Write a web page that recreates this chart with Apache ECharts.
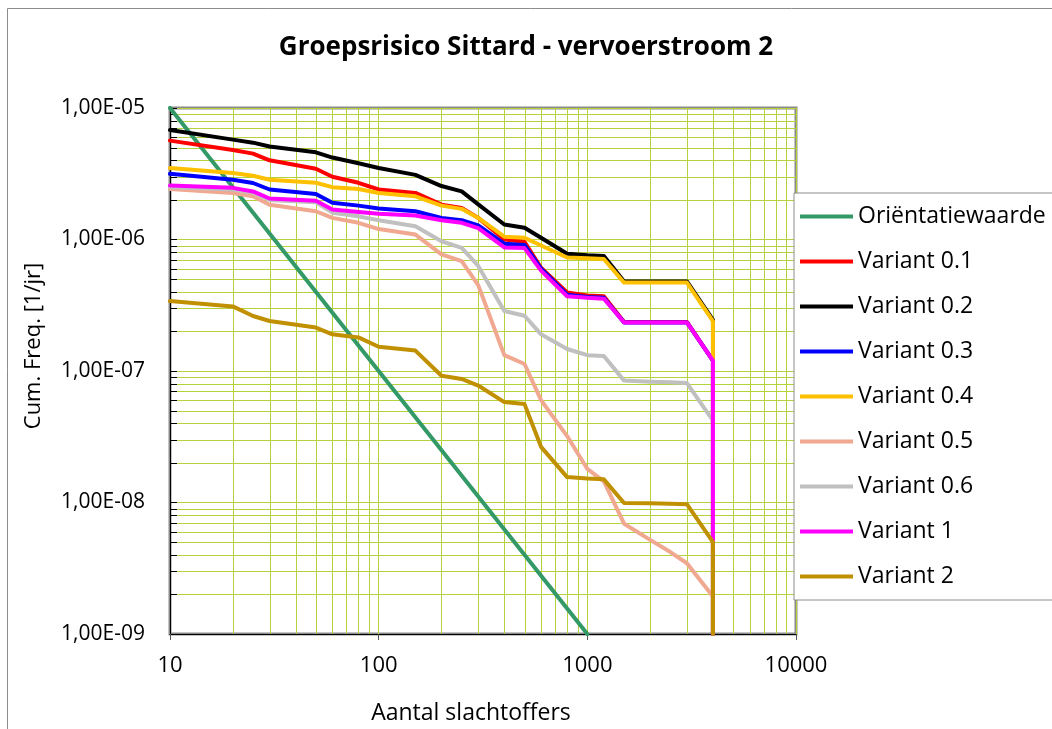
<!DOCTYPE html>
<html>
<head>
<meta charset="utf-8">
<script src="https://cdn.jsdelivr.net/npm/echarts@6/dist/echarts.min.js"></script>
<style>
  html, body { margin: 0; padding: 0; background: #fff; }
  #chart { width: 1052px; height: 729px; }
</style>
</head>
<body>
<div id="chart"></div>
<script>
// Number of victims (x) at each breakpoint of the FN curves
const slachtoffers = [10, 20, 25, 30, 50, 60, 80, 100, 150, 200, 250, 300, 400, 500, 600, 800, 1000, 1200, 1500, 2000, 2500, 3000, 4000, 4000];

// Orientation value line: 1e-5 at N=10 down to 1e-9 at N=1000
const orientatieN = [10, 1000];
const orientatieF = [1e-5, 1e-9];

// Cumulative frequency per variant [1/jr]
const variant01 = [5.65e-6, 4.8e-6, 4.5e-6, 4.0e-6, 3.45e-6, 3.0e-6, 2.7e-6, 2.4e-6, 2.26e-6, 1.84e-6, 1.74e-6, 1.46e-6, 1.0e-6, 9.6e-7, 6.1e-7, 3.95e-7, 3.75e-7, 3.7e-7, 2.36e-7, 2.36e-7, 2.36e-7, 2.36e-7, 1.2e-7, 1e-9];
const variant02 = [6.8e-6, 5.75e-6, 5.45e-6, 5.1e-6, 4.6e-6, 4.2e-6, 3.8e-6, 3.5e-6, 3.1e-6, 2.55e-6, 2.32e-6, 1.85e-6, 1.3e-6, 1.23e-6, 1.03e-6, 7.8e-7, 7.6e-7, 7.5e-7, 4.8e-7, 4.8e-7, 4.8e-7, 4.8e-7, 2.45e-7, 1e-9];
const variant03 = [3.16e-6, 2.85e-6, 2.69e-6, 2.4e-6, 2.22e-6, 1.9e-6, 1.81e-6, 1.72e-6, 1.64e-6, 1.46e-6, 1.4e-6, 1.28e-6, 9.3e-7, 9.1e-7, 6.0e-7, 3.8e-7, 3.65e-7, 3.6e-7, 2.34e-7, 2.34e-7, 2.34e-7, 2.34e-7, 1.2e-7, 1e-9];
const variant04 = [3.5e-6, 3.2e-6, 3.05e-6, 2.85e-6, 2.7e-6, 2.5e-6, 2.42e-6, 2.26e-6, 2.13e-6, 1.81e-6, 1.71e-6, 1.46e-6, 1.05e-6, 1.03e-6, 9.0e-7, 7.3e-7, 7.2e-7, 7.1e-7, 4.7e-7, 4.7e-7, 4.7e-7, 4.7e-7, 2.4e-7, 1e-9];
const variant05 = [2.42e-6, 2.26e-6, 2.13e-6, 1.84e-6, 1.64e-6, 1.46e-6, 1.34e-6, 1.2e-6, 1.09e-6, 7.7e-7, 6.85e-7, 4.5e-7, 1.32e-7, 1.13e-7, 6.0e-8, 3.2e-8, 1.8e-8, 1.45e-8, 6.9e-9, 5.2e-9, 4.2e-9, 3.45e-9, 1.93e-9, 1e-9];
const variant06 = [2.5e-6, 2.4e-6, 2.28e-6, 2.0e-6, 1.92e-6, 1.6e-6, 1.5e-6, 1.4e-6, 1.26e-6, 9.7e-7, 8.65e-7, 6.3e-7, 2.86e-7, 2.63e-7, 1.9e-7, 1.47e-7, 1.32e-7, 1.3e-7, 8.45e-8, 8.3e-8, 8.2e-8, 8.1e-8, 4.2e-8, 1e-9];
const variant1 = [2.57e-6, 2.47e-6, 2.32e-6, 2.05e-6, 1.97e-6, 1.69e-6, 1.62e-6, 1.57e-6, 1.52e-6, 1.4e-6, 1.34e-6, 1.22e-6, 8.7e-7, 8.6e-7, 5.8e-7, 3.7e-7, 3.6e-7, 3.55e-7, 2.34e-7, 2.34e-7, 2.34e-7, 2.34e-7, 1.2e-7, 1e-9];
const variant2 = [3.4e-7, 3.1e-7, 2.62e-7, 2.4e-7, 2.14e-7, 1.9e-7, 1.8e-7, 1.53e-7, 1.43e-7, 9.2e-8, 8.7e-8, 7.75e-8, 5.8e-8, 5.6e-8, 2.65e-8, 1.56e-8, 1.52e-8, 1.5e-8, 9.9e-9, 9.85e-9, 9.8e-9, 9.7e-9, 5.0e-9, 1e-9];

const seriesNames = ['Oriëntatiewaarde', 'Variant 0.1', 'Variant 0.2', 'Variant 0.3', 'Variant 0.4', 'Variant 0.5', 'Variant 0.6', 'Variant 1', 'Variant 2'];
const seriesColors = ['#339966', '#ff0000', '#000000', '#0000ff', '#ffc000', '#f0a890', '#c0c0c0', '#ff00ff', '#c09000'];
const seriesValues = [null, variant01, variant02, variant03, variant04, variant05, variant06, variant1, variant2];

// Decades spanned by the axes
const xDecades = [10, 100, 1000];
const yDecades = [1e-9, 1e-8, 1e-7, 1e-6];
const X_MIN = 10, X_MAX = 10000, Y_MIN = 1e-9, Y_MAX = 1e-5;

const FONT = 'Open Sans';
const GRID_COLOR = '#b4d23c';

function pairs(xs, ys) {
  return xs.map((x, i) => [x, ys[i]]);
}

// intermediate log gridline values 2..9 inside each decade
function minorValues(decades) {
  const out = [];
  decades.forEach(d => {
    for (let k = 2; k <= 9; k++) out.push(+(d * k).toPrecision(3));
  });
  return out;
}
const xMinor = minorValues(xDecades);
const yMinor = minorValues(yDecades);

// "1,00E-05" style labels
function sciLabel(v) {
  const e = Math.round(Math.log10(v));
  const m = v / Math.pow(10, e);
  return m.toFixed(2).replace('.', ',') + 'E' + (e < 0 ? '-' : '+') + String(Math.abs(e)).padStart(2, '0');
}

const crisp = v => Math.round(v) + 0.5;

// minor vertical gridlines (x = 20..90, 200..900, 2000..9000)
const vGridSeries = {
  name: 'vgrid',
  type: 'custom',
  silent: true,
  animation: false,
  z: 1,
  data: xMinor.map(v => [v, Y_MIN]),
  renderItem: (params, api) => {
    const cs = params.coordSys;
    const p = api.coord([api.value(0), api.value(1)]);
    return {
      type: 'line',
      shape: { x1: crisp(p[0]), y1: cs.y, x2: crisp(p[0]), y2: cs.y + cs.height },
      style: { stroke: GRID_COLOR, lineWidth: 1 }
    };
  }
};

// minor horizontal gridlines plus short inward ticks on the left axis
const hGridSeries = {
  name: 'hgrid',
  type: 'custom',
  silent: true,
  animation: false,
  z: 1,
  data: yMinor.map(v => [X_MIN, v]),
  renderItem: (params, api) => {
    const cs = params.coordSys;
    const p = api.coord([api.value(0), api.value(1)]);
    const y = crisp(p[1]);
    return {
      type: 'group',
      children: [{
        type: 'line',
        shape: { x1: cs.x, y1: y, x2: cs.x + cs.width, y2: y },
        style: { stroke: GRID_COLOR, lineWidth: 1 }
      }, {
        type: 'line',
        shape: { x1: cs.x, y1: y, x2: cs.x + 7, y2: y },
        style: { stroke: '#000', lineWidth: 1 }
      }]
    };
  }
};

const dataSeries = seriesNames.map((name, i) => ({
  name: name,
  type: 'line',
  data: i === 0 ? pairs(orientatieN, orientatieF) : pairs(slachtoffers, seriesValues[i]),
  showSymbol: false,
  symbol: 'none',
  animation: false,
  lineStyle: { color: seriesColors[i], width: 4, cap: 'round', join: 'round' },
  itemStyle: { color: seriesColors[i] },
  z: 3
}));

const chart = echarts.init(document.getElementById('chart'), null, { renderer: 'canvas' });
chart.setOption({
  backgroundColor: '#ffffff',
  animation: false,
  graphic: [{
    type: 'rect',
    shape: { x: 7.5, y: 8.5, width: 1100, height: 800 },
    style: { fill: 'none', stroke: '#8c8c8c', lineWidth: 1 },
    silent: true,
    z: -10
  }],
  title: {
    text: 'Groepsrisico Sittard - vervoerstroom 2',
    left: 'center',
    top: 30,
    textStyle: { fontFamily: FONT, fontWeight: 'bold', fontSize: 26, color: '#000' }
  },
  legend: {
    data: seriesNames,
    orient: 'vertical',
    left: 794,
    top: 193,
    padding: [12, 40, 12, 6],
    icon: 'rect',
    itemWidth: 53,
    itemHeight: 4,
    itemGap: 22,
    backgroundColor: '#ffffff',
    borderColor: '#8c8c8c',
    borderWidth: 1,
    borderRadius: 0,
    textStyle: { fontFamily: FONT, fontSize: 23, color: '#000', lineHeight: 22 }
  },
  grid: {
    left: 170,
    top: 108,
    right: 256,
    bottom: 95,
    show: true,
    borderColor: '#8a8a8a',
    borderWidth: 3,
    containLabel: false,
    outerBoundsMode: 'none'
  },
  xAxis: {
    type: 'log',
    logBase: 10,
    min: X_MIN,
    max: X_MAX,
    name: 'Aantal slachtoffers',
    nameLocation: 'middle',
    nameGap: 68,
    nameMoveOverlap: false,
    nameTextStyle: { fontFamily: FONT, fontSize: 23, color: '#000', padding: [0, 24, 0, 0] },
    axisLine: { show: true, lineStyle: { color: '#000', width: 1 } },
    axisTick: { show: true, inside: false, length: 6, lineStyle: { color: '#555' } },
    axisLabel: { fontFamily: FONT, fontSize: 22, color: '#000', margin: 21,
      formatter: v => String(Math.round(v)) },
    splitLine: { show: true, lineStyle: { color: GRID_COLOR, width: 1 } },
    minorTick: { show: false },
    minorSplitLine: { show: false }
  },
  yAxis: {
    type: 'log',
    logBase: 10,
    min: Y_MIN,
    max: Y_MAX,
    name: 'Cum. Freq. [1/jr]',
    nameLocation: 'middle',
    nameGap: 125,
    nameRotate: 90,
    nameMoveOverlap: false,
    nameTextStyle: { fontFamily: FONT, fontSize: 22, color: '#000', padding: [0, 0, 0, 50] },
    axisLine: { show: true, lineStyle: { color: '#000', width: 1 } },
    axisTick: { show: true, inside: true, length: 7, lineStyle: { color: '#000' } },
    axisLabel: { fontFamily: FONT, fontSize: 21, color: '#000', margin: 25, formatter: sciLabel },
    splitLine: { show: true, lineStyle: { color: GRID_COLOR, width: 1 } },
    minorTick: { show: false },
    minorSplitLine: { show: false }
  },
  series: [vGridSeries, hGridSeries].concat(dataSeries)
});
</script>
</body>
</html>
